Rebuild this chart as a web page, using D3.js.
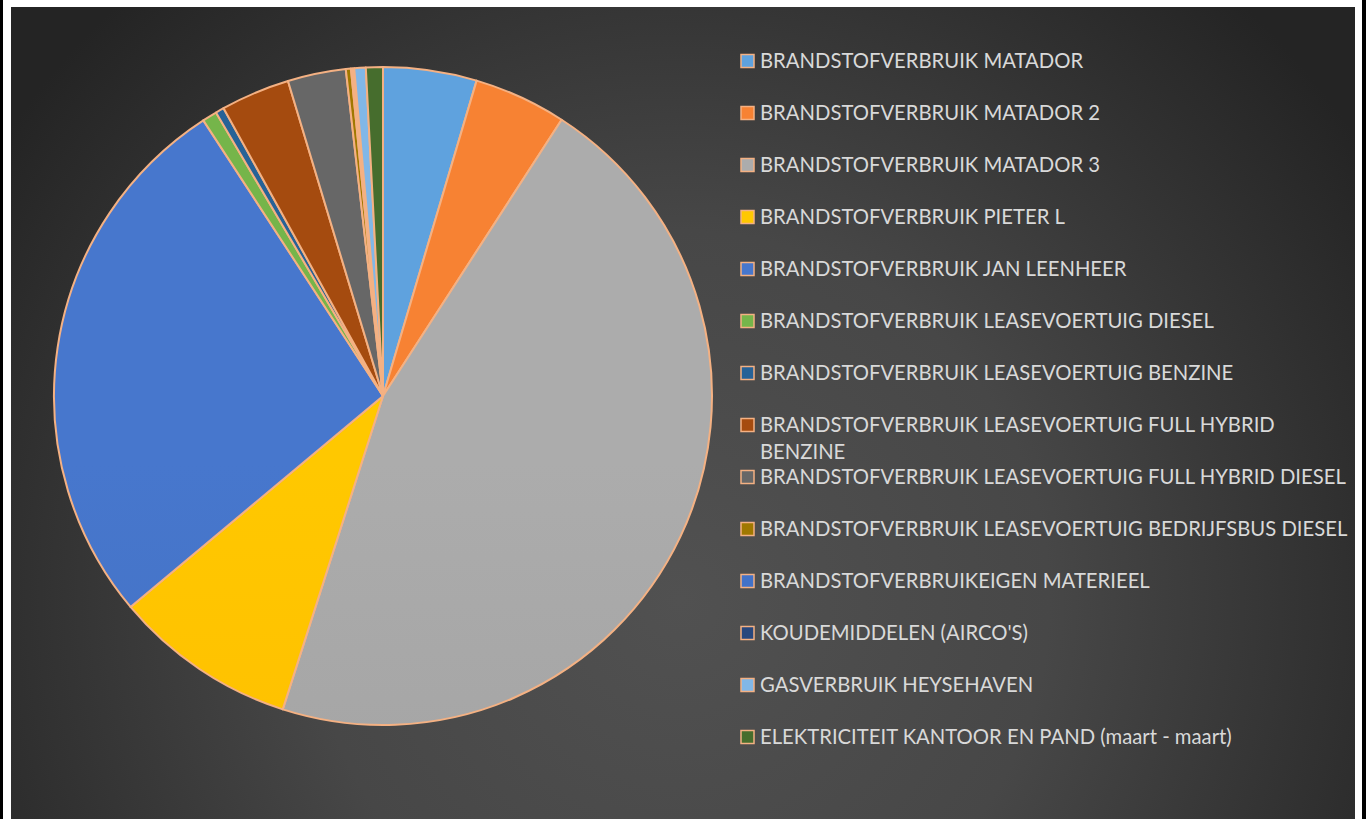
<!DOCTYPE html>
<html>
<head>
<meta charset="utf-8">
<script src="https://cdn.jsdelivr.net/npm/d3@7"></script>
<style>
  body { margin: 0; background: #fff; }
  svg { display: block; }
</style>
</head>
<body>
<svg id="chart" width="1368" height="819"></svg>
<script>
// categories in legend order
const categories = [
  'BRANDSTOFVERBRUIK MATADOR',
  'BRANDSTOFVERBRUIK MATADOR 2',
  'BRANDSTOFVERBRUIK MATADOR 3',
  'BRANDSTOFVERBRUIK PIETER L',
  'BRANDSTOFVERBRUIK JAN LEENHEER',
  'BRANDSTOFVERBRUIK LEASEVOERTUIG DIESEL',
  'BRANDSTOFVERBRUIK LEASEVOERTUIG BENZINE',
  'BRANDSTOFVERBRUIK LEASEVOERTUIG FULL HYBRID BENZINE',
  'BRANDSTOFVERBRUIK LEASEVOERTUIG FULL HYBRID DIESEL',
  'BRANDSTOFVERBRUIK LEASEVOERTUIG BEDRIJFSBUS DIESEL',
  'BRANDSTOFVERBRUIKEIGEN MATERIEEL',
  "KOUDEMIDDELEN (AIRCO'S)",
  'GASVERBRUIK HEYSEHAVEN',
  'ELEKTRICITEIT KANTOOR EN PAND (maart - maart)'
]

// share of total (%)
const shares = [4.58, 4.53, 45.67, 8.97, 26.81, 0.72, 0.42, 3.38, 2.85, 0.25, 0.08, 0.08, 0.56, 0.83]

const colors = [
  '#5B9BD5', '#ED7D31', '#A5A5A5', '#FFC000', '#4472C4', '#70AD47', '#255E91',
  '#9E480E', '#636363', '#997300', '#3F6DC0', '#264478', '#7CAFDD', '#43682B'
]

const data = categories.map((c, i) => ({ name: c, value: shares[i], color: colors[i] }))

const svg = d3.select('#chart')
const defs = svg.append('defs')

// chart background
const bg = defs.append('radialGradient')
  .attr('id', 'bg-grad')
  .attr('gradientUnits', 'userSpaceOnUse')
  .attr('cx', 680).attr('cy', 600).attr('r', 820)
bg.append('stop').attr('offset', '0').attr('stop-color', '#515151')
bg.append('stop').attr('offset', '0.45').attr('stop-color', '#474747')
bg.append('stop').attr('offset', '1').attr('stop-color', '#242424')

svg.append('rect').attr('x', 0).attr('y', 0).attr('width', 3).attr('height', 819).attr('fill', '#000')
svg.append('rect').attr('x', 1362).attr('y', 0).attr('width', 4).attr('height', 819).attr('fill', '#000')
svg.append('rect')
  .attr('x', 11).attr('y', 7)
  .attr('width', 1344).attr('height', 830)
  .attr('fill', 'url(#bg-grad)')

// pie
const cx = 383
const cy = 396
const radius = 329

data.forEach((d, i) => {
  const g = defs.append('linearGradient')
    .attr('id', 'slice-' + i)
    .attr('gradientUnits', 'userSpaceOnUse')
    .attr('x1', 0).attr('y1', cy - radius)
    .attr('x2', 0).attr('y2', cy + radius)
  g.append('stop').attr('offset', '0').attr('stop-color', d3.color(d.color).brighter(0.12))
  g.append('stop').attr('offset', '0.5').attr('stop-color', d.color)
  g.append('stop').attr('offset', '1').attr('stop-color', d3.color(d.color).darker(0.2))
})

const pie = d3.pie().sort(null).value(d => d.value)
const arc = d3.arc().innerRadius(0).outerRadius(radius)

svg.append('g')
  .attr('transform', `translate(${cx},${cy})`)
  .selectAll('path')
  .data(pie(data))
  .join('path')
  .attr('d', arc)
  .attr('fill', (d, i) => `url(#slice-${i})`)
  .attr('stroke', '#F4B183')
  .attr('stroke-width', 2)
  .attr('stroke-linejoin', 'round')

// legend
const legend = svg.append('g').attr('class', 'legend')
const fontFamily = 'Lato, "Open Sans", sans-serif'

// fit the font so the longest one-line label spans like the reference
const probe = legend.append('text')
  .style('font-family', fontFamily)
  .style('font-size', '20px')
  .text(categories[9])
const probeWidth = probe.node().getComputedTextLength()
probe.remove()
const fontSize = 20 * 588 / probeWidth
const maxWidth = 596

const rowStart = 61
const rowStep = 52

data.forEach((d, i) => {
  const y = rowStart + i * rowStep
  const row = legend.append('g').attr('transform', `translate(0,${y})`)
  row.append('rect')
    .attr('x', 741).attr('y', -6.5)
    .attr('width', 13).attr('height', 13)
    .attr('fill', `url(#slice-${i})`)
    .attr('stroke', '#F4B183')
    .attr('stroke-width', 1.5)

  const text = row.append('text')
    .attr('x', 760)
    .attr('y', 0)
    .attr('fill', '#D9D9D9')
    .style('font-family', fontFamily)
    .style('font-size', fontSize + 'px')

  // simple word wrap
  const words = d.name.split(' ')
  let line = []
  let tspan = text.append('tspan').attr('x', 760).attr('dy', '0.36em')
  words.forEach(w => {
    line.push(w)
    tspan.text(line.join(' '))
    if (tspan.node().getComputedTextLength() > maxWidth && line.length > 1) {
      line.pop()
      tspan.text(line.join(' '))
      line = [w]
      tspan = text.append('tspan').attr('x', 760).attr('dy', 27).text(w)
    }
  })
})
</script>
</body>
</html>
